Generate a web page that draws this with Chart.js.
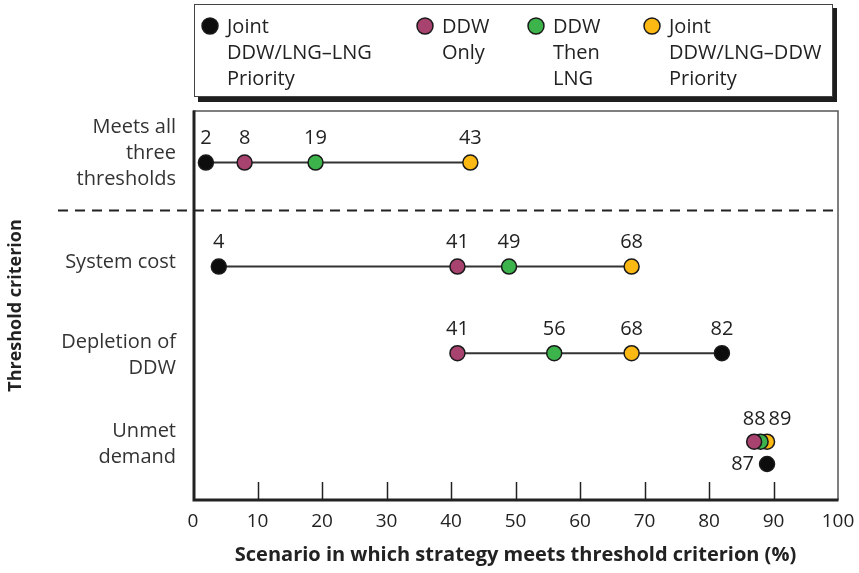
<!DOCTYPE html>
<html>
<head>
<meta charset="utf-8">
<script src="https://cdn.jsdelivr.net/npm/chart.js@4"></script>
<style>
  html, body { margin: 0; padding: 0; background: #fff; }
  #wrap { width: 859px; height: 573px; }
</style>
</head>
<body>
<div id="wrap"><canvas id="chart" width="859" height="573"></canvas></div>
<script>
// data
const criteria = [['Meets all', 'three', 'thresholds'], ['System cost'], ['Depletion of', 'DDW'], ['Unmet', 'demand']];
const strategies = [['Joint', 'DDW/LNG\u2013LNG', 'Priority'], ['DDW', 'Only'], ['DDW', 'Then', 'LNG'], ['Joint', 'DDW/LNG\u2013DDW', 'Priority']];
const jointLngPriority = [2, 4, 82, 89];
const ddwOnly = [8, 41, 41, 87];
const ddwThenLng = [19, 49, 56, 88];
const jointDdwPriority = [43, 68, 68, 89];
const unmetLabels = ['87', '88', '', '89'];
const xTicks = [0, 10, 20, 30, 40, 50, 60, 70, 80, 90, 100];

const colors = ['#0d0d0d', '#a8426e', '#3cb44b', '#fdb913'];
const series = [jointLngPriority, ddwOnly, ddwThenLng, jointDdwPriority];

// layout: row centres on the y scale, 0 = top row
const rowAt = [0.03, 1.1, 1.99, 2.9];
const labelAt = [-0.06, 1.06, 2.01, 2.93];  // row captions sit a touch off the dots
const lowRow = 0.23;   // black unmet-demand dot sits under the cluster
const FONT = '"Open Sans", "DejaVu Sans", sans-serif';
const INK = '#222';

const pointSets = series.map((vals, s) => ({
    type: 'scatter',
    label: strategies[s].join(' '),
    data: vals.map((v, r) => ({ x: v, y: rowAt[r] + (s === 0 && r === 3 ? lowRow : 0) })),
    backgroundColor: colors[s],
    borderColor: '#1a1a1a',
    borderWidth: 1.5,
    pointRadius: 7.5,
    order: 1
}));

// connector from lowest to highest value in the first three rows
const lineSets = [0, 1, 2].map(r => {
    const vals = series.map(v => v[r]);
    return {
        type: 'line',
        data: [{ x: Math.min(...vals), y: rowAt[r] }, { x: Math.max(...vals), y: rowAt[r] }],
        borderColor: '#333',
        borderWidth: 2,
        pointRadius: 0,
        order: 5
    };
});

const decor = {
    id: 'decor',
    beforeDraw(chart) {
        const ctx = chart.ctx;
        // legend box with drop shadow
        ctx.save();
        ctx.fillStyle = '#1e1e1e';
        ctx.fillRect(198, 8, 639, 94);
        ctx.fillStyle = '#fff';
        ctx.fillRect(194, 4, 639, 93);
        ctx.strokeStyle = '#444';
        ctx.lineWidth = 1;
        ctx.strokeRect(194.5, 4.5, 638, 92);
        const lx = [210, 425, 536, 652];
        ctx.font = '20px ' + FONT;
        ctx.textBaseline = 'middle';
        ctx.textAlign = 'left';
        strategies.forEach((lines, s) => {
            ctx.beginPath();
            ctx.arc(lx[s], 26, 8, 0, Math.PI * 2);
            ctx.fillStyle = colors[s];
            ctx.fill();
            ctx.strokeStyle = '#1a1a1a';
            ctx.lineWidth = 1.5;
            ctx.stroke();
            ctx.fillStyle = INK;
            lines.forEach((t, i) => ctx.fillText(t, lx[s] + 17, 27 + i * 26));
        });
        ctx.restore();
    },
    afterDraw(chart) {
        const ctx = chart.ctx;
        const a = chart.chartArea;
        const x = chart.scales.x, y = chart.scales.y;
        ctx.save();
        // dashed separator under the first row
        const dy = Math.round(y.getPixelForValue(0.52)) + 0.5;
        ctx.strokeStyle = INK;
        ctx.lineWidth = 2;
        ctx.setLineDash([10, 7]);
        ctx.beginPath();
        ctx.moveTo(58, dy);
        ctx.lineTo(a.right, dy);
        ctx.stroke();
        ctx.setLineDash([]);
        // frame: thin top/right, heavy left/bottom
        ctx.strokeStyle = '#555';
        ctx.lineWidth = 1.5;
        ctx.beginPath();
        ctx.moveTo(a.left, a.top);
        ctx.lineTo(a.right, a.top);
        ctx.lineTo(a.right, a.bottom);
        ctx.stroke();
        ctx.strokeStyle = INK;
        ctx.lineWidth = 3;
        ctx.beginPath();
        ctx.moveTo(a.left + 1, a.top - 0.5);
        ctx.lineTo(a.left + 1, a.bottom);
        ctx.lineTo(a.right + 0.5, a.bottom);
        ctx.stroke();
        // inward tick marks
        ctx.lineWidth = 1.5;
        xTicks.slice(1, -1).forEach(v => {
            const px = Math.round(x.getPixelForValue(v)) + 0.5;
            ctx.beginPath();
            ctx.moveTo(px, a.bottom);
            ctx.lineTo(px, a.bottom - 18);
            ctx.stroke();
        });
        // value labels
        ctx.font = '20px ' + FONT;
        ctx.fillStyle = INK;
        ctx.textBaseline = 'middle';
        series.forEach((vals, s) => {
            const pts = chart.getDatasetMeta(s).data;
            vals.forEach((v, r) => {
                const p = pts[r];
                if (r < 3) {
                    ctx.textAlign = 'center';
                    ctx.fillText(String(v), p.x, p.y - 24);
                } else if (unmetLabels[s]) {
                    if (s === 0) {
                        ctx.textAlign = 'right';
                        ctx.fillText(unmetLabels[s], p.x - 13, p.y);
                    } else {
                        ctx.textAlign = 'center';
                        ctx.fillText(unmetLabels[s], p.x + (s === 3 ? 13 : 0), p.y - 22);
                    }
                }
            });
        });
        ctx.restore();
    }
};

new Chart(document.getElementById('chart').getContext('2d'), {
    data: { datasets: pointSets.concat(lineSets) },
    options: {
        responsive: false,
        animation: false,
        devicePixelRatio: 1,
        layout: { padding: { top: 111, right: 21, bottom: 0, left: 0 } },
        plugins: { legend: { display: false }, tooltip: { enabled: false } },
        scales: {
            x: {
                type: 'linear',
                min: 0,
                max: 100,
                afterBuildTicks: s => { s.ticks = xTicks.map(v => ({ value: v })); },
                afterFit: s => { s.height = 73; s.paddingLeft = 0; s.paddingRight = 0; },
                grid: { display: false, drawTicks: false },
                border: { display: false },
                ticks: { font: { family: FONT, size: 19 }, color: INK, padding: 10, maxRotation: 0, autoSkip: false },
                title: {
                    display: true,
                    text: 'Scenario in which strategy meets threshold criterion (%)',
                    font: { family: FONT, size: 20, weight: 'bold' },
                    color: INK,
                    padding: { top: 0, bottom: 6 }
                }
            },
            y: {
                type: 'linear',
                reverse: true,
                min: -0.5,
                max: 3.5,
                afterBuildTicks: s => { s.ticks = labelAt.map(v => ({ value: v })); },
                afterFit: s => { s.width = 193; },
                grid: { display: false, drawTicks: false },
                border: { display: false },
                ticks: {
                    callback: (v, i) => criteria[i],
                    font: { family: FONT, size: 20, lineHeight: 1.3 },
                    color: '#333',
                    crossAlign: 'near',
                    padding: 17,
                    autoSkip: false
                },
                title: {
                    display: true,
                    text: 'Threshold criterion',
                    font: { family: FONT, size: 18, weight: 'bold' },
                    color: INK,
                    padding: { top: 5, bottom: 0 }
                }
            }
        }
    },
    plugins: [decor]
});
</script>
</body>
</html>
